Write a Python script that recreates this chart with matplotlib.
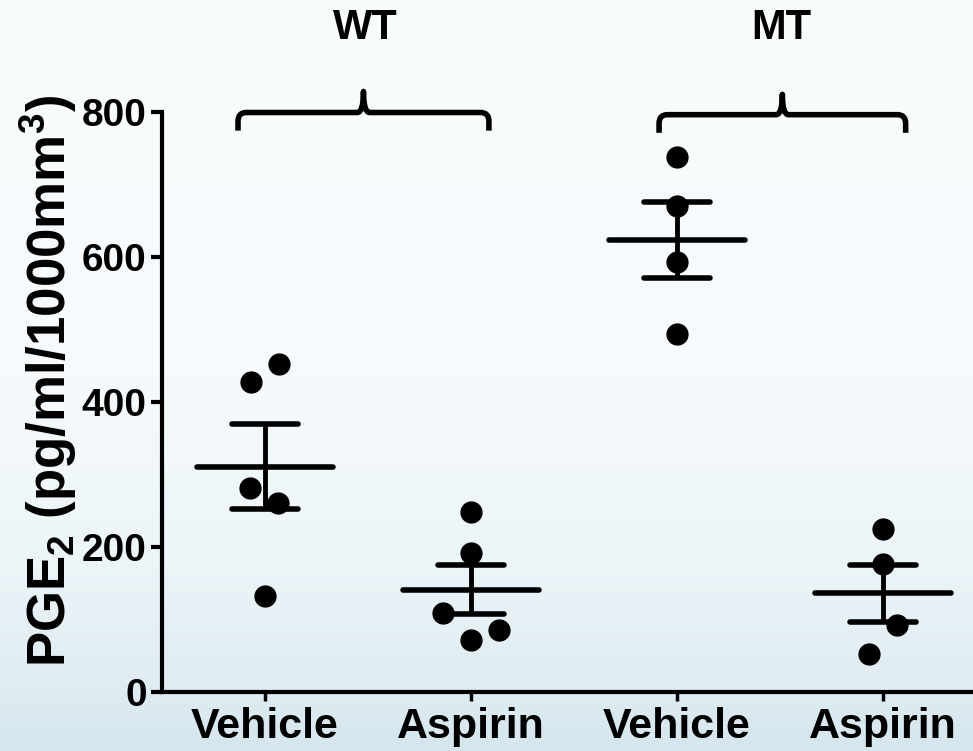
import numpy as np
import matplotlib
matplotlib.use("Agg")
import matplotlib.pyplot as plt
from matplotlib.path import Path
from matplotlib.patches import PathPatch

# ---- data ----
groups = ["WT", "MT"]
tick_labels = ["Vehicle", "Aspirin", "Vehicle", "Aspirin"]
y_ticks = [0, 200, 400, 600, 800]

wt_vehicle = [453, 428, 282, 261, 133]
wt_aspirin = [249, 192, 109, 86, 73]
mt_vehicle = [738, 671, 594, 495]
mt_aspirin = [225, 177, 93, 53]

# sideways scatter of each dot, in category units
wt_vehicle_dx = [0.07, -0.07, -0.075, 0.065, 0.0]
wt_aspirin_dx = [0.0, 0.0, -0.135, 0.135, 0.0]
mt_vehicle_dx = [0.0, 0.0, 0.0, 0.0]
mt_aspirin_dx = [0.0, 0.0, 0.07, -0.07]

series = [wt_vehicle, wt_aspirin, mt_vehicle, mt_aspirin]
offsets = [wt_vehicle_dx, wt_aspirin_dx, mt_vehicle_dx, mt_aspirin_dx]

plt.rcParams['font.family'] = ['Liberation Sans', 'DejaVu Sans']
plt.rcParams['font.weight'] = 'bold'
plt.rcParams['mathtext.fontset'] = 'custom'
plt.rcParams['mathtext.rm'] = 'Liberation Sans:bold'
plt.rcParams['mathtext.bf'] = 'Liberation Sans:bold'

fig = plt.figure(figsize=(9.73, 7.51), dpi=100)

# background gradient, white on top fading into pale blue at the bottom
bg = fig.add_axes([0, 0, 1, 1], zorder=-10)
stops = [0.0, 0.5, 0.75, 0.9, 1.0]
cols = np.array([[249, 252, 253], [246, 250, 252], [236, 245, 248],
                 [225, 237, 243], [213, 230, 238]]) / 255.0
t = np.linspace(0, 1, 400)
grad = np.stack([np.interp(t, stops, cols[:, i]) for i in range(3)], axis=1)
bg.imshow(grad[:, None, :], aspect='auto', extent=[0, 1, 0, 1])
bg.axis('off')

ax = fig.add_axes([0.1665, 0.0779, 0.8335, 0.7723])
ax.patch.set_alpha(0)

lw = 4
for i, (vals, dx) in enumerate(zip(series, offsets)):
    xc = i + 1
    vals = np.array(vals, dtype=float)
    m = vals.mean()
    sem = vals.std(ddof=1) / np.sqrt(len(vals))
    ax.plot(xc + np.array(dx), vals, 'o', color='black', markersize=15,
            zorder=3, clip_on=False)
    ax.hlines(m, xc - 0.33, xc + 0.33, color='black', lw=lw, capstyle='round', zorder=4)
    ax.hlines([m - sem, m + sem], xc - 0.16, xc + 0.16, color='black', lw=lw,
              capstyle='round', zorder=4)
    ax.vlines(xc, m - sem, m + sem, color='black', lw=3.5, zorder=4)


def brace(ax, x0, x1, y, tip, peak, rx=0.04, ry=12, w=0.03):
    xm = (x0 + x1) / 2
    verts = [(x0, tip), (x0, y - ry), (x0, y), (x0 + rx, y),
             (xm - w, y), (xm, y), (xm, peak), (xm, y), (xm + w, y),
             (x1 - rx, y), (x1, y), (x1, y - ry), (x1, tip)]
    codes = [Path.MOVETO, Path.LINETO, Path.CURVE3, Path.CURVE3,
             Path.LINETO, Path.CURVE3, Path.CURVE3, Path.CURVE3, Path.CURVE3,
             Path.LINETO, Path.CURVE3, Path.CURVE3, Path.LINETO]
    ax.add_patch(PathPatch(Path(verts, codes), fill=False, lw=4,
                           edgecolor='black', clip_on=False,
                           joinstyle='round', capstyle='butt'))


brace(ax, 0.869, 2.087, 800, 775, 829)
brace(ax, 2.913, 4.110, 797, 772, 825)
for name, xg in zip(groups, [1.485, 3.505]):
    ax.text(xg, 916, name, ha='center', va='center', fontsize=30,
            fontweight='bold', clip_on=False)

ax.set_xlim(0.5, 4.437)
ax.set_ylim(0, 800)
ax.set_xticks([1, 2, 3, 4])
ax.set_xticklabels(tick_labels, fontsize=31, fontweight='bold')
ax.set_yticks(y_ticks)
ax.set_yticklabels([str(v) for v in y_ticks], fontsize=28, fontweight='bold')
ax.tick_params(axis='y', direction='out', length=8, width=3, pad=3)
ax.tick_params(axis='x', direction='out', length=6.5, width=2.5, pad=4)
for s in ['top', 'right']:
    ax.spines[s].set_visible(False)
for s in ['left', 'bottom']:
    ax.spines[s].set_linewidth(3)

fig.text(0.049, 0.493, r'PGE$_\mathbf{2}$ (pg/ml/1000mm$^\mathbf{3}$)',
         rotation=90, ha='center', va='center', fontsize=38, fontweight='bold')

fig.savefig('out.png', dpi=100)
